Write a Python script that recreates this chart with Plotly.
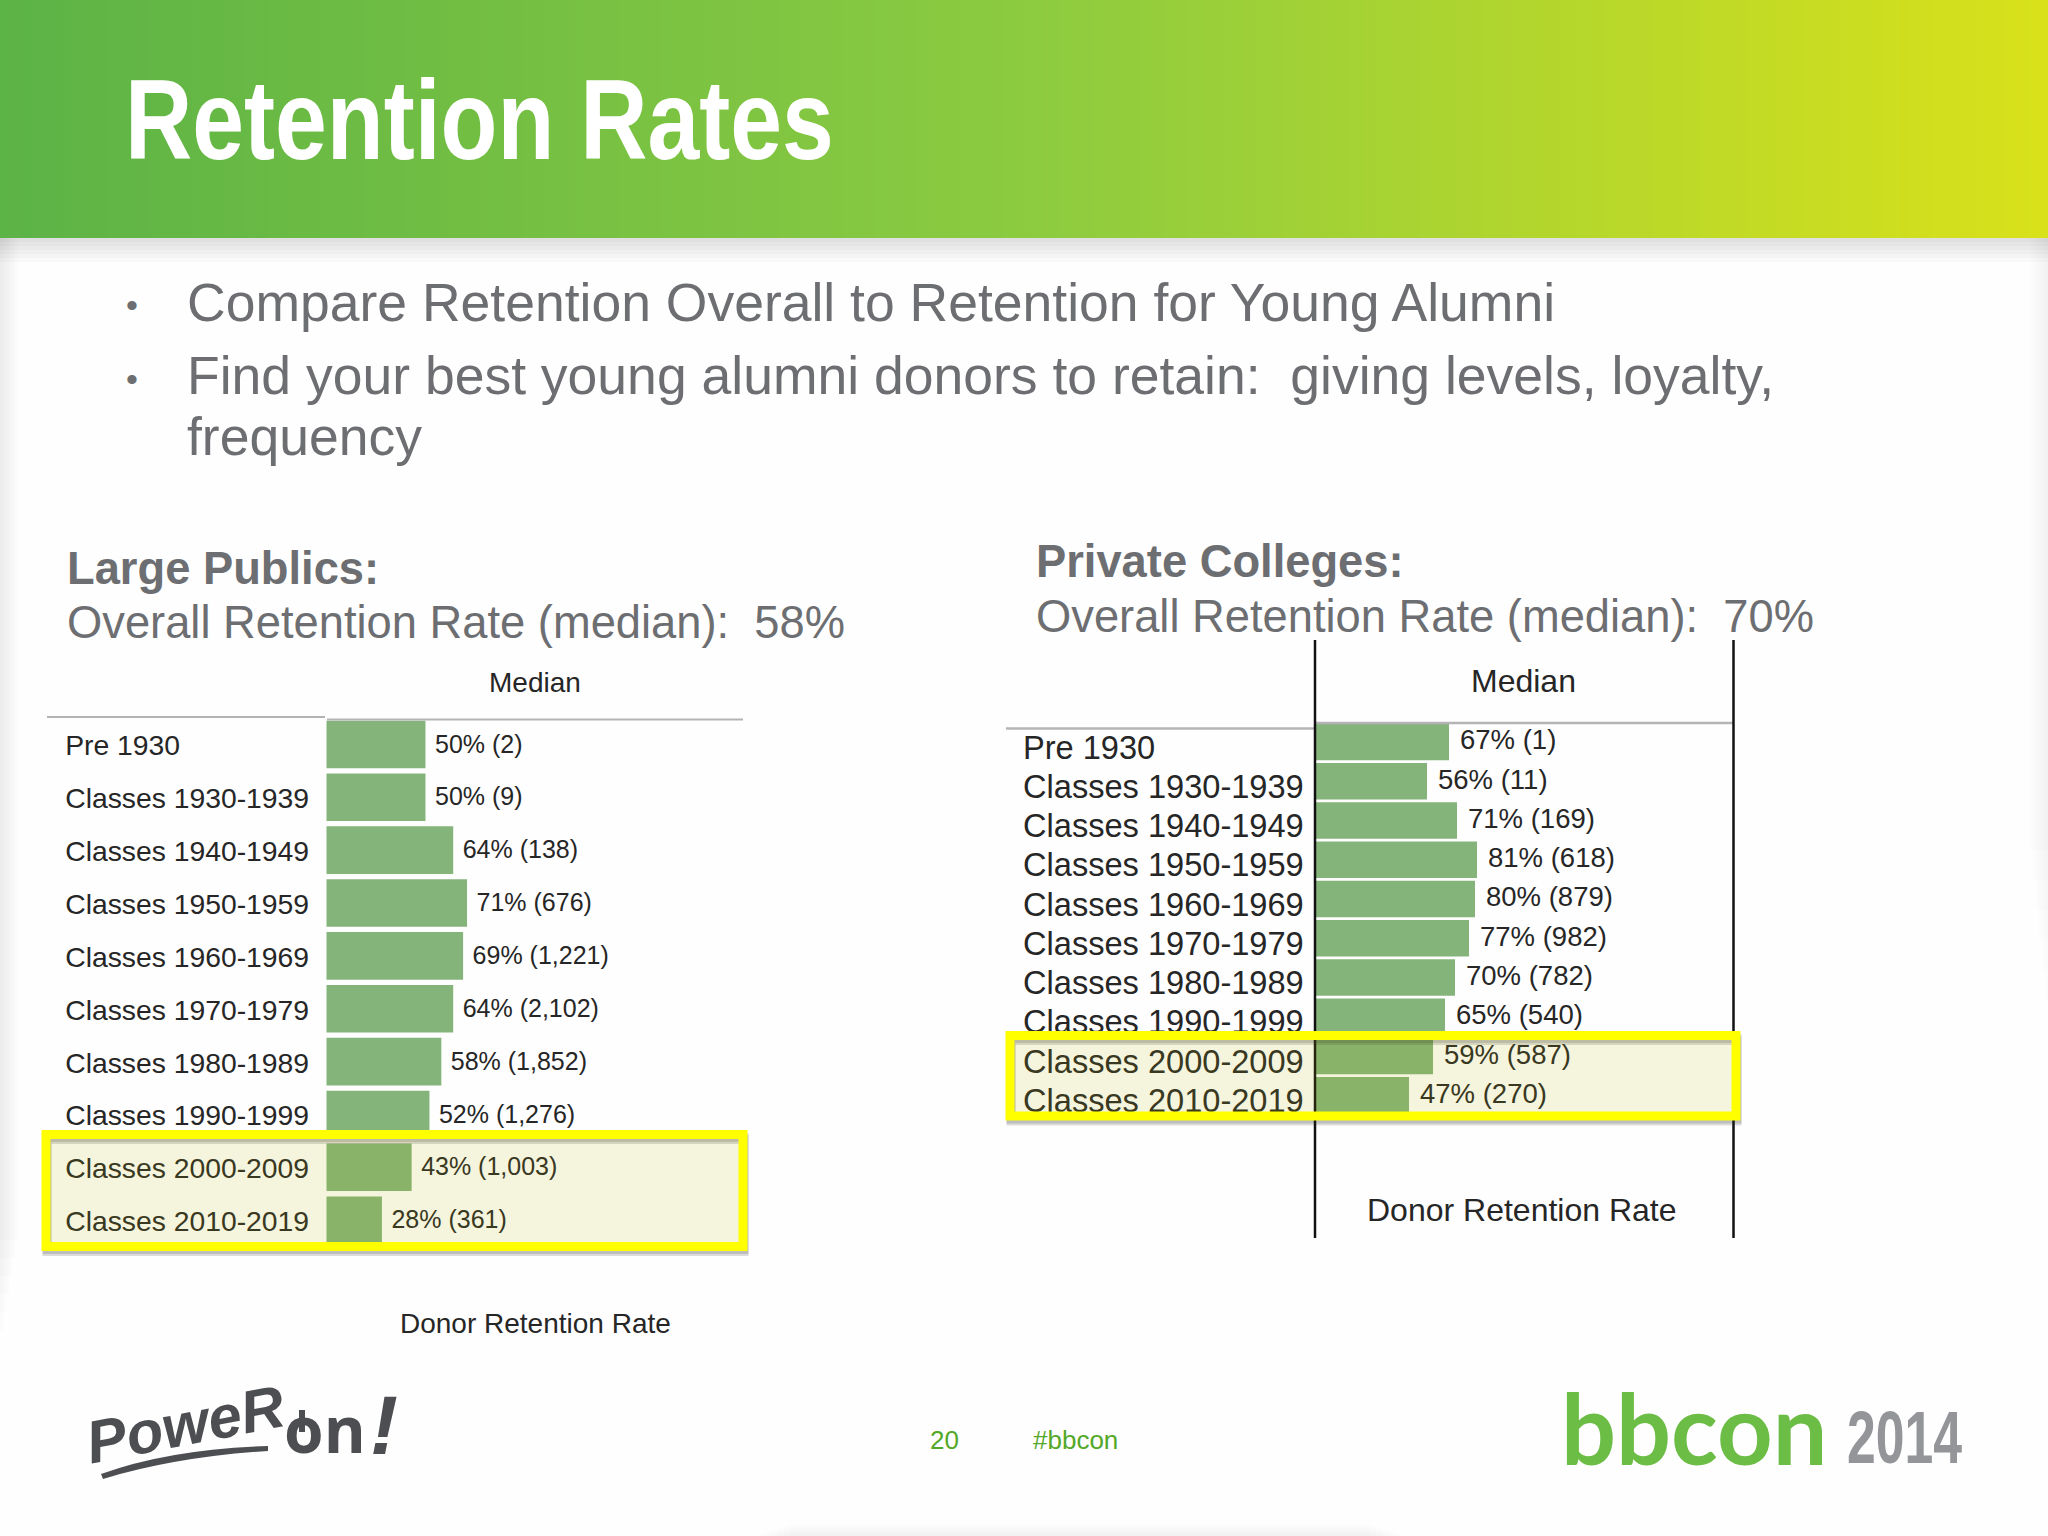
import plotly.graph_objects as go

W, H = 2048, 1536

classes = ["Pre 1930", "Classes 1930-1939", "Classes 1940-1949", "Classes 1950-1959",
           "Classes 1960-1969", "Classes 1970-1979", "Classes 1980-1989",
           "Classes 1990-1999", "Classes 2000-2009", "Classes 2010-2019"]

public_rate = [50, 50, 64, 71, 69, 64, 58, 52, 43, 28]
public_donors = ["2", "9", "138", "676", "1,221", "2,102", "1,852", "1,276", "1,003", "361"]

private_rate = [67, 56, 71, 81, 80, 77, 70, 65, 59, 47]
private_donors = ["1", "11", "169", "618", "879", "982", "782", "540", "587", "270"]

bullets = ["Compare Retention Overall to Retention for Young Alumni",
           "Find your best young alumni donors to retain:\u00a0 giving levels, loyalty,",
           "frequency"]

SANS = "Liberation Sans"
GREY_TEXT = "#6d6e71"
CHART_TEXT = "#262626"
BAR = "#84b47a"


def px(x):
    return x / W


def py(y):
    return 1 - y / H


def note(text, x, y, size, color=GREY_TEXT, family=SANS, anchor="left", **kw):
    return dict(text=text, x=px(x), y=py(y), xref="paper", yref="paper", showarrow=False,
                xanchor=anchor, yanchor="middle", font=dict(size=size, color=color, family=family), **kw)


def rect(x0, y0, x1, y1, fill=None, line=None, width=0, layer="below"):
    return dict(type="rect", xref="paper", yref="paper", x0=px(x0), x1=px(x1), y0=py(y0), y1=py(y1),
                fillcolor=fill or "rgba(0,0,0,0)", line=dict(color=line or "rgba(0,0,0,0)", width=width), layer=layer)


def hline(x0, x1, y, color, width, layer="above"):
    return dict(type="line", xref="paper", yref="paper", x0=px(x0), x1=px(x1), y0=py(y), y1=py(y),
                line=dict(color=color, width=width), layer=layer)


def vline(x, y0, y1, color, width, layer="above"):
    return dict(type="line", xref="paper", yref="paper", x0=px(x), x1=px(x), y0=py(y0), y1=py(y1),
                line=dict(color=color, width=width), layer=layer)


fig = go.Figure()

# header gradient
fig.add_trace(go.Heatmap(z=[[0, 0.5, 1], [0, 0.5, 1]], x=[0, 1, 2], y=[0, 1], zsmooth="best",
                         colorscale=[[0, "#5cb346"], [0.5, "#8ccb40"], [1, "#d9e11a"]],
                         showscale=False, hoverinfo="skip", xaxis="x3", yaxis="y3"))


def add_panel(rate, donors, xa, ya, name_x, label_gap, cat_shift, val_shift, cat_size, val_size, bar_width):
    rows = list(range(len(classes)))
    fig.add_trace(go.Bar(x=rate, y=rows, orientation="h", marker=dict(color=BAR, line_width=0),
                         width=bar_width, xaxis=xa, yaxis=ya, hoverinfo="skip"))
    fig.add_trace(go.Scatter(x=[name_x] * len(rows), y=[r + cat_shift for r in rows], text=classes,
                             mode="text", textposition="middle right", cliponaxis=False,
                             textfont=dict(family=SANS, size=cat_size, color=CHART_TEXT),
                             xaxis=xa, yaxis=ya, hoverinfo="skip"))
    fig.add_trace(go.Scatter(x=[v + label_gap for v in rate], y=[r + val_shift for r in rows],
                             text=[f"{v}% ({d})" for v, d in zip(rate, donors)],
                             mode="text", textposition="middle right", cliponaxis=False,
                             textfont=dict(family=SANS, size=val_size, color=CHART_TEXT),
                             xaxis=xa, yaxis=ya, hoverinfo="skip"))


add_panel(public_rate, public_donors, "x", "y", -132, 4.8, 0.075, 0.035, 28.3, 25, 0.9)
add_panel(private_rate, private_donors, "x2", "y2", -146, 5.5, 0.215, 0.015, 32.6, 27.5, 0.93)

shapes = []
# soft slide shadows
for i in range(6):
    shapes.append(rect(0, 238, W, 238 + 4 * (i + 1), fill="rgba(60,60,60,0.022)"))
    shapes.append(rect(0, 238, 3 * (i + 1), 1330 - 18 * i, fill="rgba(60,60,60,0.016)"))
    shapes.append(rect(W - 3 * (i + 1), 238, W, 1000 - 30 * i, fill="rgba(60,60,60,0.012)"))
    shapes.append(rect(760 + 6 * i, H - 2 * (i + 1), 1400 - 6 * i, H, fill="rgba(60,60,60,0.012)"))

# table rules
shapes += [hline(47, 325, 717, "#b4b4b4", 2), hline(327, 743, 719.4, "#b4b4b4", 2),
           hline(1006, 1315, 728.6, "#b4b4b4", 2.5), hline(1315, 1733.5, 723, "#b4b4b4", 2.5),
           vline(1315, 640, 1238, "#111111", 2.5), vline(1733.5, 640, 1238, "#111111", 2.5)]


def highlight(x0, y0, x1, y1):
    # shadow first so it shows just inside the top and under the bottom of the yellow frame
    out = [rect(x0 + 1, y0 + 3 + d, x1 + 1, y1 + 3 + d, line="rgba(40,40,40,0.16)", width=9, layer="above")
           for d in (0, 2)]
    out.append(rect(x0, y0, x1, y1, fill="rgba(184,177,0,0.13)", line="#ffff00", width=9, layer="above"))
    return out


shapes += highlight(46, 1134.5, 743, 1246.5)
shapes += highlight(1010, 1035.5, 1736, 1116)

# Power on logo marks
shapes.append(dict(type="path", xref="paper", yref="paper", layer="above", fillcolor="#4c4e51", line_width=0,
                   path=f"M {px(101)} {py(1474)} Q {px(170)} {py(1449)} {px(268)} {py(1446)} "
                        f"L {px(268)} {py(1451)} Q {px(175)} {py(1457)} {px(103)} {py(1479)} Z"))
shapes.append(vline(302, 1410, 1432, "#4c4e51", 6))

annotations = [
    note("<b>Retention Rates</b>", 123, 120, 113, "#ffffff"),
    note("•", 124, 305, 34),
    note("•", 124, 379, 34),
    note(bullets[0], 185, 302, 53.5),
    note(bullets[1], 185, 376, 53.5),
    note(bullets[2], 185, 437, 53.5),
    note("<b>Large Publics:</b>", 65, 568, 45.3),
    note("Overall Retention Rate (median):\u00a0 58%", 65, 623, 45.3),
    note("<b>Private Colleges:</b>", 1034, 561, 45.3),
    note("Overall Retention Rate (median):\u00a0 70%", 1034, 616, 45.3),
    note("Median", 535, 683, 28, CHART_TEXT, anchor="center"),
    note("Donor Retention Rate", 535, 1323, 28, CHART_TEXT, anchor="center"),
    note("Median", 1523, 681, 32, CHART_TEXT, anchor="center"),
    note("Donor Retention Rate", 1522, 1210, 32, CHART_TEXT, anchor="center"),
    note("20", 944, 1440, 26, "#53a828", anchor="center"),
    note("#bbcon", 1075, 1440, 26, "#53a828", anchor="center"),
    note("<b><i>PoweR</i></b>", 78, 1424, 60, "#4c4e51", SANS, textangle=-11),
    note("<b>on</b>", 282, 1428, 64, "#4c4e51", "Open Sans"),
    note("<b><i>!</i></b>", 368, 1425, 84, "#4c4e51", SANS),
    note("<b>bbcon</b>", 1559, 1427, 97, "#6cbd45", "Lato"),
    note("<b>2014</b>", 1845, 1437, 75, "#939598"),
]

fig.update_layout(
    width=W, height=H, margin=dict(l=0, r=0, t=0, b=0), paper_bgcolor="#fefefe", plot_bgcolor="rgba(0,0,0,0)",
    showlegend=False, shapes=shapes, annotations=annotations, hovermode=False,
    xaxis=dict(domain=[px(47), px(743)], range=[-141.2, 210.4], visible=False),
    yaxis=dict(domain=[py(1246.6), py(718)], range=[9.5, -0.5], visible=False),
    xaxis2=dict(domain=[px(1006), px(1733.5)], range=[-154.5, 209.25], visible=False),
    yaxis2=dict(domain=[py(1115), py(722.3)], range=[9.5, -0.5], visible=False),
    xaxis3=dict(domain=[0, 1], range=[0, 2], visible=False),
    yaxis3=dict(domain=[py(238), 1], range=[0, 1], visible=False),
)

# no narrow bold font is installed, so squeeze the two condensed texts sideways
squeeze = """
document.body.style.margin='0';document.body.style.overflow='hidden';
[['Retention Rates',0.824],['2014',0.69]].forEach(function(item){
  document.querySelectorAll('.annotation-text').forEach(function(t){
    if(t.textContent===item[0]){
      var b=t.getBBox();
      t.setAttribute('transform','translate('+b.x+' 0) scale('+item[1]+' 1) translate('+(-b.x)+' 0)');
    }
  });
});
"""

fig.write_html("out.html", config=dict(displayModeBar=False), post_script=squeeze)
